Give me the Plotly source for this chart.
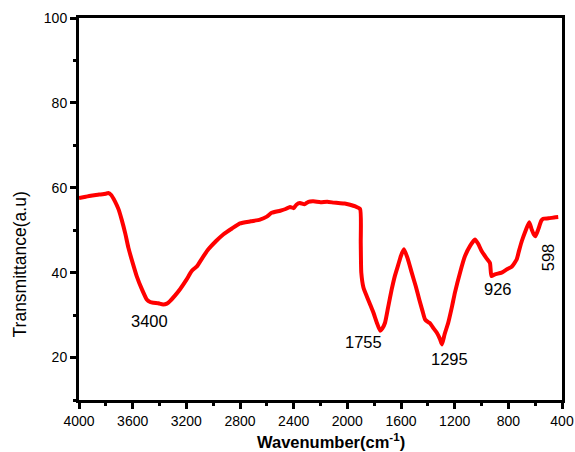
import plotly.graph_objects as go

# FTIR spectrum: wavenumber (cm^-1) vs transmittance (a.u.)
wavenumber = [4000, 3950, 3900, 3850, 3800, 3782, 3760, 3732, 3705, 3682, 3655, 3632,
              3600, 3570, 3530, 3495, 3470, 3446, 3410, 3400, 3372, 3345, 3322, 3285,
              3247, 3200, 3160, 3140, 3123, 3080, 3036, 2980, 2925, 2860, 2800, 2720,
              2651, 2600, 2564, 2500, 2460, 2427, 2400, 2380, 2353, 2320, 2290, 2254,
              2200, 2150, 2100, 2067, 2020, 1980, 1940, 1905, 1900, 1896, 1880, 1856,
              1830, 1806, 1780, 1755, 1740, 1719, 1695, 1669, 1645, 1620, 1600, 1578,
              1550, 1520, 1490, 1464, 1440, 1421, 1400, 1384, 1360, 1334, 1310, 1295,
              1275, 1248, 1220, 1198, 1160, 1123, 1085, 1049, 1025, 999, 965, 937,
              926, 900, 850, 810, 775, 738, 720, 700, 670, 644, 626, 610, 598, 577,
              555, 540, 500, 460, 428]
transmittance = [57.6, 57.9, 58.2, 58.4, 58.6, 58.8, 58.3, 56.8, 54.9, 52.5, 49.2, 45.9,
                 42.3, 39.2, 36.0, 33.7, 33.1, 32.9, 32.8, 32.7, 32.5, 32.7, 33.3, 34.6,
                 36.1, 38.3, 40.4, 41.0, 41.4, 43.5, 45.5, 47.4, 49.0, 50.4, 51.6, 52.1,
                 52.5, 53.2, 54.1, 54.6, 55.0, 55.5, 55.2, 56.0, 56.4, 56.1, 56.7, 56.8,
                 56.6, 56.7, 56.5, 56.4, 56.3, 56.0, 55.6, 55.0, 47.0, 40.0, 36.5, 34.5,
                 32.5, 30.6, 28.2, 26.3, 26.8, 28.2, 32.0, 36.1, 39.3, 41.9, 44.0, 45.5,
                 43.3, 40.0, 36.8, 33.7, 31.0, 29.0, 28.4, 28.1, 27.0, 25.9, 24.4, 23.1,
                 25.5, 28.2, 32.0, 35.3, 40.0, 43.9, 46.3, 47.8, 46.8, 45.1, 43.5, 42.3,
                 39.2, 39.6, 40.0, 40.8, 41.4, 43.1, 45.2, 47.4, 50.0, 51.9, 50.2, 49.0,
                 48.6, 50.2, 52.2, 52.7, 52.8, 53.0, 53.1]

# Peak labels: text, x, y, rotation
peak_text = ["3400", "1755", "1295", "926", "598"]
peak_x = [3471, 1883, 1242, 877, 505]
peak_y = [28.5, 23.6, 19.6, 36.1, 43.6]
peak_angle = [0, 0, 0, 0, -90]

x_ticks = [4000, 3600, 3200, 2800, 2400, 2000, 1600, 1200, 800, 400]
y_ticks = [20, 40, 60, 80, 100]

FONT = "Liberation Sans, Arial"

fig = go.Figure()
fig.add_trace(go.Scatter(
    x=wavenumber, y=transmittance, mode="lines",
    line=dict(color="#ff0000", width=4, shape="spline", smoothing=0.5),
    showlegend=False,
))

for t, x, y, a in zip(peak_text, peak_x, peak_y, peak_angle):
    fig.add_annotation(x=x, y=y, text=t, showarrow=False, textangle=a,
                       font=dict(family=FONT, size=16.5, color="#000"))

# Axis titles placed as paper annotations
fig.add_annotation(xref="paper", yref="paper", x=0.521, y=-0.139, yanchor="bottom",
                   text="<b>Wavenumber(cm<sup>-1</sup>)</b>", showarrow=False,
                   font=dict(family=FONT, size=16.5, color="#000"))
fig.add_annotation(xref="paper", yref="paper", x=-0.122, xanchor="center",
                   y=0.355, yanchor="middle", textangle=-90,
                   text="Transmittance(a.u)", showarrow=False,
                   font=dict(family=FONT, size=17.5, color="#000"))

axis_common = dict(
    showline=True, linecolor="#000", linewidth=3, mirror=True,
    showgrid=False, zeroline=False, ticks="outside", ticklen=6, tickwidth=3,
    tickcolor="#000", automargin=False,
    tickfont=dict(family=FONT, size=14, color="#000"),
    minor=dict(ticks="outside", ticklen=3, tickwidth=3, tickcolor="#000"),
)

fig.update_xaxes(range=[4000, 400], tickvals=x_ticks, ticktext=[str(v) for v in x_ticks],
                 minor_dtick=200, minor_tick0=0, **axis_common)
fig.update_yaxes(range=[10, 100], tickvals=y_ticks, ticktext=[str(v) for v in y_ticks],
                 minor_dtick=10, minor_tick0=0, **axis_common)

fig.update_layout(
    width=575, height=452, margin=dict(l=79, r=13, t=18, b=52),
    paper_bgcolor="white", plot_bgcolor="white",
)

fig.write_html("out.html")
